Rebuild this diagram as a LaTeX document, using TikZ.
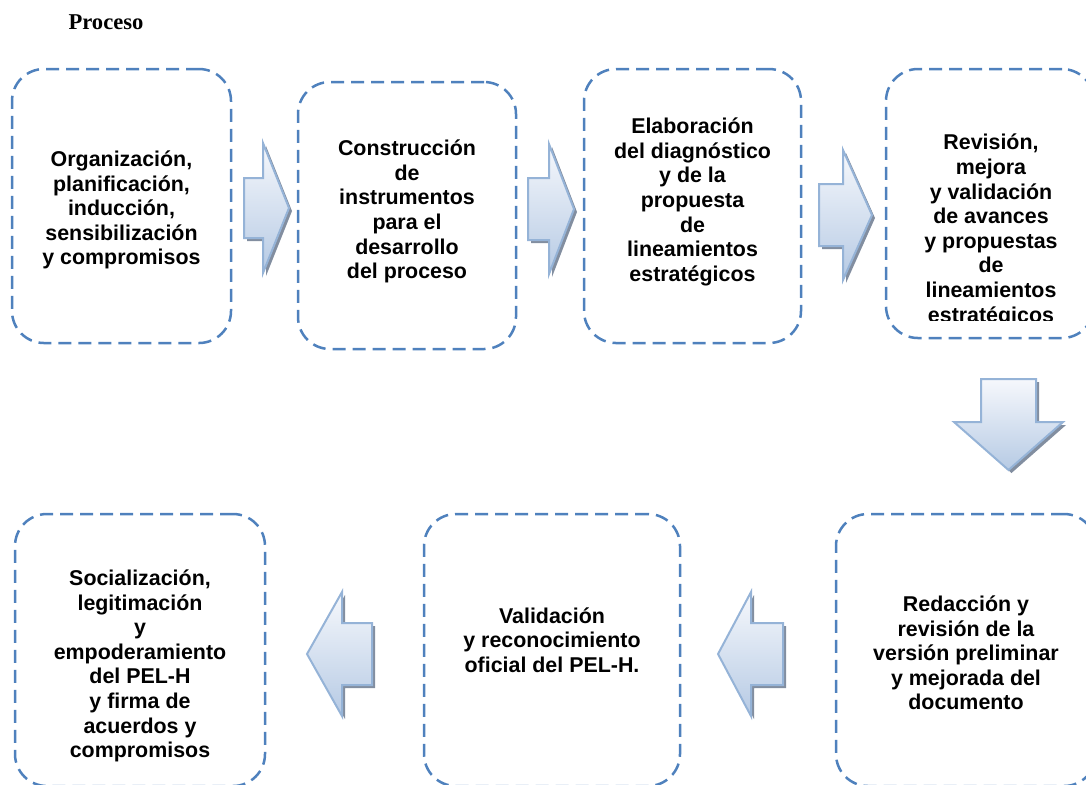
\documentclass[tikz,border=0pt]{standalone}
\usepackage{fontspec}
\setmainfont{Liberation Serif}
\setsansfont{Liberation Sans}
\usetikzlibrary{calc,shadows}
\definecolor{dashblue}{RGB}{79,129,189}
\definecolor{arrowline}{RGB}{149,179,215}
\definecolor{arrowtop}{RGB}{246,248,252}
\definecolor{arrowbottom}{RGB}{182,202,228}
\definecolor{arrowshadow}{RGB}{130,142,160}

\begin{document}
\begin{tikzpicture}[x=0.5pt,y=-0.5pt,
	box_text/.style={align=center,font=\sffamily\bfseries\fontsize{10.7}{12.3}\selectfont},
	step_node/.style={draw=dashblue,line width=1.25pt,dash pattern=on 6.5pt off 3.5pt,rounded corners=16pt},
	block_arrow/.style={draw=arrowline,line width=1pt,top color=arrowtop,bottom color=arrowbottom,drop shadow={shadow xshift=1.5pt,shadow yshift=-1.5pt,fill=arrowshadow,opacity=1}}]
				
				\useasboundingbox (0,0) rectangle (1086,784);
				
				\node (title) at (106,22) {\fontsize{11.3}{13}\selectfont\bfseries Proceso};
				
				\node[step_node,minimum width=109.5pt,minimum height=137pt] (1) at (121.5,206) {};
				\node[step_node,minimum width=109pt,minimum height=133.5pt] (2) at (407,215.5) {};
				\node[step_node,minimum width=108.5pt,minimum height=137pt] (3) at (692.5,206) {};
				\node[step_node,minimum width=104pt,minimum height=134.5pt] (4) at (990,203.5) {};
				\node[step_node,minimum width=130pt,minimum height=136pt] (5) at (966,650) {};
				\node[step_node,minimum width=128pt,minimum height=136pt] (6) at (552,650) {};
				\node[step_node,minimum width=125pt,minimum height=136pt] (7) at (140,650) {};
				
				\node[box_text] (1t) at ($(1)+(0,4)$) {Organización,\\ planificación,\\ inducción,\\ sensibilización\\ y compromisos};
				\node[box_text] (2t) at ($(2)+(0,-4)$) {Construcción\\ de\\ instrumentos\\ para el\\ desarrollo\\ del proceso};
				\node[box_text] (3t) at ($(3)+(0,-4)$) {Elaboración\\ del diagnóstico\\ y de la\\ propuesta\\ de\\ lineamientos\\ estratégicos};
				\begin{scope}
					\clip (880,60) rectangle (1086,320);
					\node[box_text] (4t) at ($(4)+(1,27)$) {Revisión,\\ mejora\\ y validación\\ de avances\\ y propuestas\\ de\\ lineamientos\\ estratégicos};
				\end{scope}
				\node[box_text] (5t) at ($(5)+(0,3)$) {Redacción y\\ revisión de la\\ versión preliminar\\ y mejorada del\\ documento};
				\node[box_text] (6t) at ($(6)+(0,-10)$) {Validación\\ y reconocimiento\\ oficial del PEL-H.};
				\node[box_text] (7t) at ($(7)+(0,16)$) {Socialización,\\ legitimación\\ y\\ empoderamiento\\ del PEL-H\\ y firma de\\ acuerdos y\\ compromisos};
				
				\path[block_arrow] ($(1.east)!.5!(2.west)+(-20.5,-32.75)$) -- ++(19,0) -- ++(0,-35) -- ++(26,65) -- ++(-26,65) -- ++(0,-35) -- ++(-19,0) -- cycle;
				\path[block_arrow] ($(2.east)!.5!(3.west)+(-22,-32.75)$) -- ++(21,0) -- ++(0,-34) -- ++(25,65) -- ++(-25,65) -- ++(0,-34) -- ++(-21,0) -- cycle;
				\path[block_arrow] ($(3.east)!.5!(4.west)+(-24.5,-20.75)$) -- ++(24,0) -- ++(0,-34) -- ++(29,65) -- ++(-29,65) -- ++(0,-34) -- ++(-24,0) -- cycle;
				\path[block_arrow] ($(4.south)!.5!(5.north)+(3,-47)$) -- ++(55,0) -- ++(0,43) -- ++(27,0) -- ++(-54.5,48) -- ++(-54.5,-48) -- ++(27,0) -- cycle;
				\path[block_arrow] ($(5.west)!.5!(6.east)+(-40,4)$) -- ++(33,-62) -- ++(0,31) -- ++(32,0) -- ++(0,62) -- ++(-32,0) -- ++(0,31) -- cycle;
				\path[block_arrow] ($(6.west)!.5!(7.east)+(-37.5,4)$) -- ++(35,-62) -- ++(0,31) -- ++(30,0) -- ++(0,62) -- ++(-30,0) -- ++(0,31) -- cycle;
			\end{tikzpicture}
\end{document}
